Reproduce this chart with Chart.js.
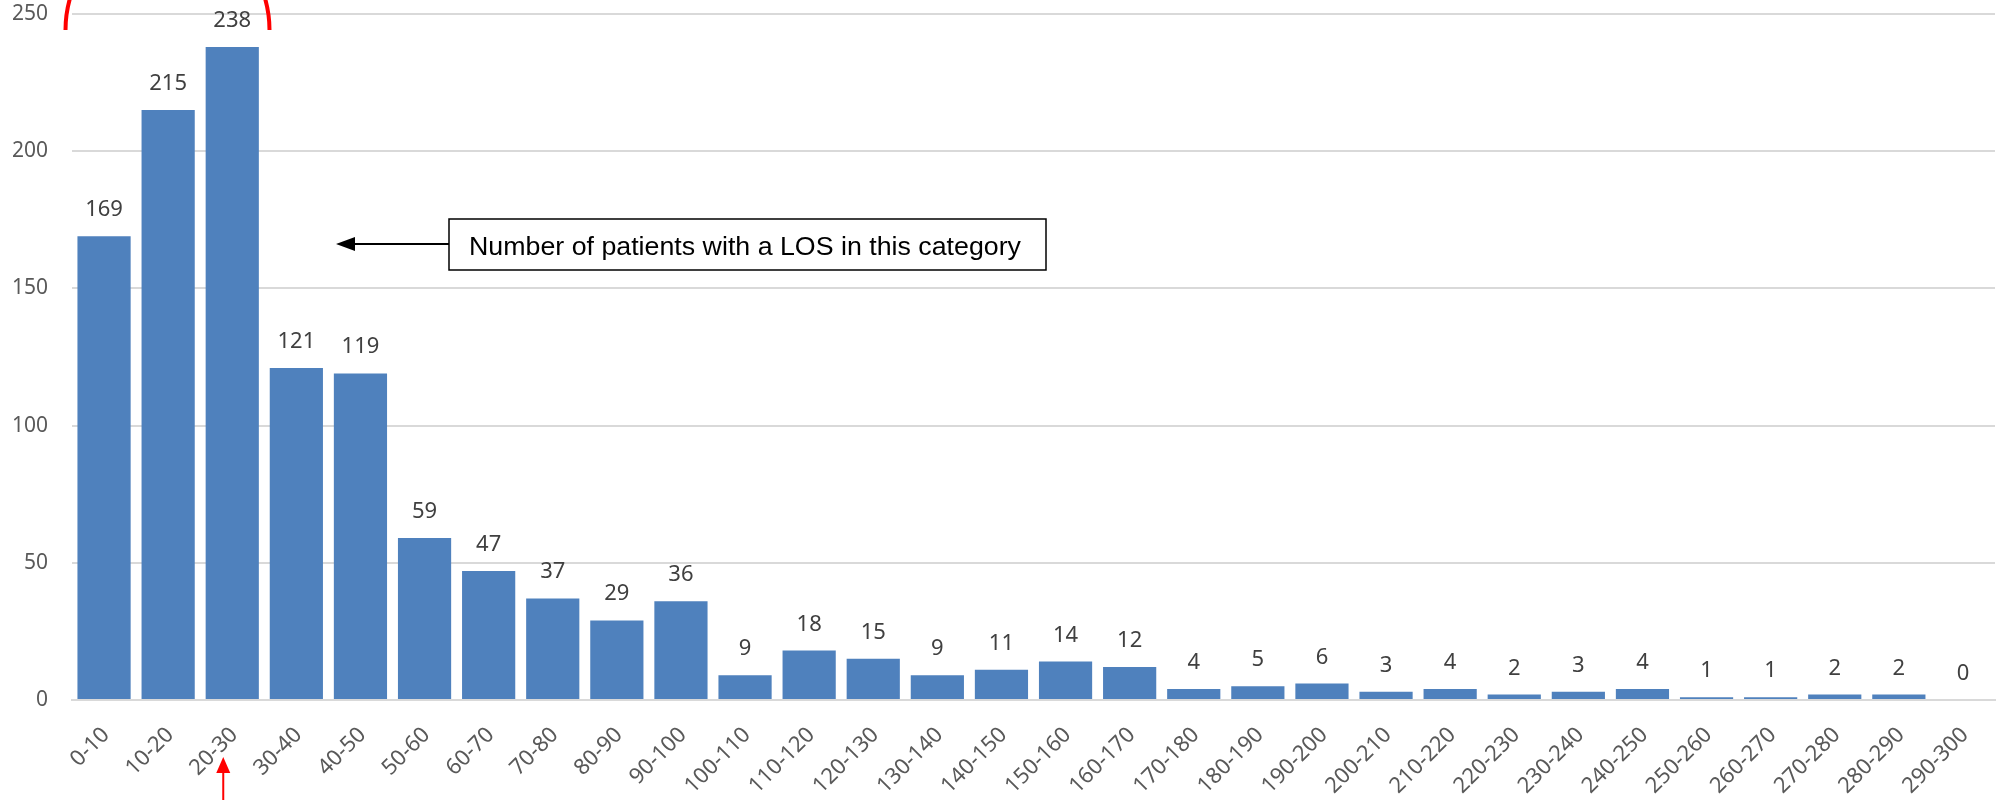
<!DOCTYPE html>
<html>
<head>
<meta charset="utf-8">
<script src="https://cdn.jsdelivr.net/npm/chart.js@4/dist/chart.umd.min.js"></script>
<style>
  html, body { margin: 0; padding: 0; background: #fff; }
  #wrap { width: 1996px; height: 800px; position: relative; }
</style>
</head>
<body>
<div id="wrap"><canvas id="losChart"></canvas></div>
<script>
'use strict'
// LOS categories
const categories = ['0-10','10-20','20-30','30-40','40-50','50-60','60-70','70-80','80-90','90-100',
  '100-110','110-120','120-130','130-140','140-150','150-160','160-170','170-180','180-190','190-200',
  '200-210','210-220','220-230','230-240','240-250','250-260','260-270','270-280','280-290','290-300'];
// number of patients per category
const patients = [169, 215, 238, 121, 119, 59, 47, 37, 29, 36,
  9, 18, 15, 9, 11, 14, 12, 4, 5, 6,
  3, 4, 2, 3, 4, 1, 1, 2, 2, 0];
// y axis ticks
const yMin = 0;
const yMax = 250;
const yStep = 50;
// annotation text
const noteText = 'Number of patients with a LOS in this category';

const barColor = '#4F81BD';
const gridColor = '#d9d9d9';
const labelColor = '#595959';

//==================================================================================================

// value labels above bars
const valueLabels = {
  id: 'valueLabels',
  afterDatasetsDraw(chart){
    const ctx = chart.ctx;
    const meta = chart.getDatasetMeta(0);
    ctx.save();
    ctx.font = '22px "Noto Sans"';
    ctx.fillStyle = '#404040';
    ctx.textAlign = 'center';
    ctx.textBaseline = 'alphabetic';
    meta.data.forEach((bar, i) => {
      ctx.fillText(String(patients[i]), bar.x, bar.y - 20);
    });
    ctx.restore();
  }
};

// annotation box, arrows and red marks
const extras = {
  id: 'extras',
  afterDraw(chart){
    const ctx = chart.ctx;
    const xs = chart.scales.x;
    ctx.save();

    // text box
    const bx = 449, by = 219, bw = 597, bh = 51;
    ctx.fillStyle = '#fff';
    ctx.fillRect(bx, by, bw, bh);
    ctx.strokeStyle = '#000';
    ctx.lineWidth = 1.5;
    ctx.strokeRect(bx, by, bw, bh);
    ctx.font = '25px "Liberation Sans Narrow", "Liberation Sans", sans-serif';
    ctx.fillStyle = '#000';
    ctx.textBaseline = 'alphabetic';
    ctx.textAlign = 'left';
    const tw = ctx.measureText(noteText).width;
    const target = 552;
    ctx.save();
    ctx.translate(469, 255);
    ctx.scale(target / tw, 1);
    ctx.fillText(noteText, 0, 0);
    ctx.restore();

    // black arrow pointing left
    const ay = 244;
    ctx.strokeStyle = '#000';
    ctx.lineWidth = 2;
    ctx.beginPath();
    ctx.moveTo(bx, ay);
    ctx.lineTo(352, ay);
    ctx.stroke();
    ctx.beginPath();
    ctx.moveTo(336, ay);
    ctx.lineTo(355, ay - 7);
    ctx.lineTo(355, ay + 7);
    ctx.closePath();
    ctx.fill();

    // red arrow under 20-30
    const rx = xs.getPixelForValue(2) - 9;
    ctx.strokeStyle = '#ff0000';
    ctx.fillStyle = '#ff0000';
    ctx.lineWidth = 2;
    ctx.beginPath();
    ctx.moveTo(rx, 800);
    ctx.lineTo(rx, 770);
    ctx.stroke();
    ctx.beginPath();
    ctx.moveTo(rx, 757);
    ctx.lineTo(rx - 7, 773);
    ctx.lineTo(rx + 7, 773);
    ctx.closePath();
    ctx.fill();

    // red ellipse fragments at top
    ctx.lineWidth = 4;
    ctx.beginPath();
    ctx.ellipse(167.5, 30, 102, 108, 0, Math.PI, Math.PI + 0.3);
    ctx.stroke();
    ctx.beginPath();
    ctx.ellipse(167.5, 30, 102, 108, 0, 2 * Math.PI - 0.3, 2 * Math.PI);
    ctx.stroke();

    ctx.restore();
  }
};

//==================================================================================================

function drawChart(){
  new Chart(document.getElementById('losChart'), {
    type: 'bar',
    data: {
      labels: categories,
      datasets: [{
        label: 'Patients',
        data: patients,
        backgroundColor: barColor,
        borderWidth: 0,
        categoryPercentage: 1,
        barPercentage: 0.83
      }]
    },
    options: {
      responsive: true,
      maintainAspectRatio: false,
      animation: false,
      layout: { padding: { top: 14, right: 1, bottom: 0, left: 0 } },
      plugins: {
        legend: { display: false },
        tooltip: { enabled: false }
      },
      scales: {
        x: {
          grid: { display: false, drawTicks: false },
          border: { display: true, color: gridColor, width: 2 },
          ticks: {
            color: labelColor,
            font: { family: 'Noto Sans', size: 22 },
            minRotation: 45,
            maxRotation: 45,
            autoSkip: false,
            padding: 22,
            labelOffset: 2
          },
          afterFit(scale){
            scale.height = 100;
            scale.paddingRight = 0;
          }
        },
        y: {
          min: yMin,
          max: yMax,
          ticks: {
            stepSize: yStep,
            color: labelColor,
            font: { family: 'Noto Sans', size: 21 },
            padding: 24
          },
          grid: { color: gridColor, lineWidth: 2, drawTicks: false },
          border: { display: false },
          afterFit(scale){
            scale.width = 72;
            scale.paddingTop = 12;
            scale.paddingBottom = 12;
          }
        }
      }
    },
    plugins: [valueLabels, extras]
  });
}

drawChart();
</script>
</body>
</html>
